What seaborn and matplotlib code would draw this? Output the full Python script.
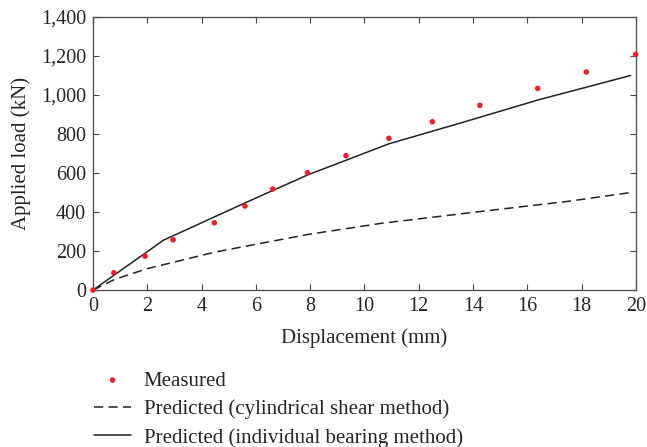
import matplotlib
matplotlib.use("Agg")
import matplotlib.pyplot as plt
import matplotlib.ticker as mticker
import seaborn as sns

# measured load-displacement points
meas_disp = [0, 0.77, 1.92, 2.95, 4.47, 5.6, 6.62, 7.9, 9.32, 10.9, 12.5, 14.25, 16.38, 18.17, 19.99]
meas_load = [0, 89, 174, 258, 345, 431, 518, 602, 689, 778, 863, 947, 1034, 1118, 1208]

# predicted, cylindrical shear method
cyl_disp = [0, 0.8, 2, 4.5, 7.9, 10.6, 14.4, 17.5, 19.8]
cyl_load = [0, 55, 110, 195, 285, 342, 405, 455, 500]

# predicted, individual bearing method
ind_disp = [0, 2.6, 5.6, 7.9, 10.9, 13.5, 16.4, 19.8]
ind_load = [0, 256, 447, 590, 750, 855, 975, 1100]

sns.set_style("ticks")
plt.rcParams["font.family"] = ["Liberation Serif", "DejaVu Serif"]

fig = plt.figure(figsize=(6.47, 4.47), dpi=100)
ax = fig.add_axes([0.1437, 0.351, 0.8393, 0.611])

sns.scatterplot(x=meas_disp, y=meas_load, ax=ax, color="#e8202a", s=16,
                edgecolor="none", label="Measured", zorder=3, clip_on=False)
sns.lineplot(x=cyl_disp, y=cyl_load, ax=ax, color="#222222", lw=1.1,
             label="Predicted (cylindrical shear method)")
sns.lineplot(x=ind_disp, y=ind_load, ax=ax, color="#222222", lw=1.1,
             label="Predicted (individual bearing method)")
ax.lines[0].set_dashes((6, 3.5))

ax.set_xlim(0, 20)
ax.set_ylim(0, 1400)
ax.set_xticks(range(0, 21, 2))
ax.set_yticks(range(0, 1401, 200))
ax.yaxis.set_major_formatter(mticker.StrMethodFormatter("{x:,.0f}"))
ax.tick_params(direction="in", top=True, right=True, length=4, labelsize=14.5,
               color="#444444", pad=5)
for sp in ax.spines.values():
    sp.set_color("#555555")
    sp.set_linewidth(1)

ax.set_xlabel("Displacement (mm)", fontsize=15, labelpad=9)
ax.set_ylabel("Applied load (kN)", fontsize=15, labelpad=7)

ax.legend(loc="upper left", bbox_to_anchor=(0.145, 0.17), bbox_transform=fig.transFigure,
          frameon=False, fontsize=15, handlelength=1.8, handletextpad=0.6,
          labelspacing=0.42, borderpad=0, borderaxespad=0, scatterpoints=1)

fig.savefig("out.png", dpi=100)
